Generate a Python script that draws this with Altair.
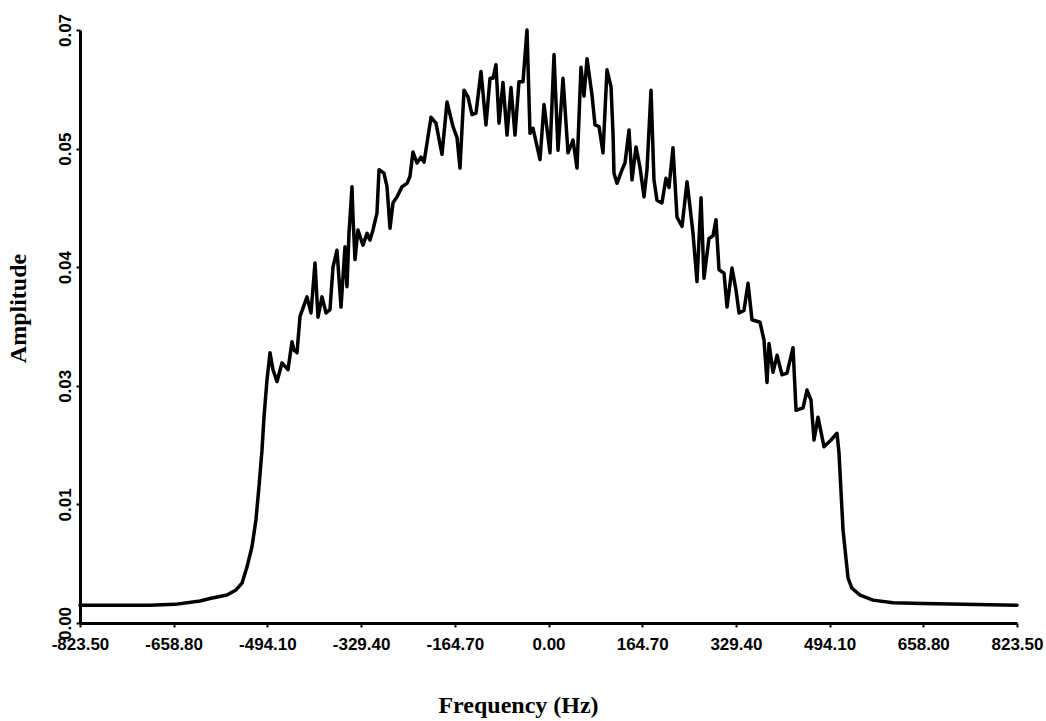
import altair as alt
import pandas as pd

# Spectrum trace: frequency (Hz) and amplitude
freq_hz = [
    -823.5, -700.5, -656.5, -612.6, -595.0, -565.1, -549.3, -538.8, -530.0, -521.2,
    -514.2, -508.9, -503.6, -500.1, -494.8, -489.5, -484.3, -477.2, -468.5, -457.9,
    -450.9, -447.4, -442.1, -436.8, -429.8, -424.5, -417.5, -410.4, -405.2, -398.1,
    -391.1, -384.1, -378.8, -371.8, -364.7, -357.7, -354.2, -350.7, -345.4, -343.6,
    -340.1, -334.9, -326.1, -319.0, -313.8, -308.5, -301.5, -297.9, -289.2, -283.9,
    -278.6, -273.3, -266.3, -257.5, -248.7, -243.5, -238.2, -231.1, -224.1, -218.8,
    -206.5, -197.8, -187.2, -178.4, -167.9, -160.8, -155.6, -148.5, -141.5, -134.5,
    -127.4, -118.7, -109.9, -102.8, -97.6, -92.3, -87.0, -80.0, -72.9, -65.9,
    -58.9, -51.9, -44.8, -37.8, -32.5, -27.2, -14.9, -7.9, 2.6, 9.7,
    16.7, 25.5, 34.3, 43.1, 50.1, 57.1, 62.4, 67.7, 76.5, 81.7,
    88.8, 95.8, 102.8, 109.9, 113.4, 115.1, 120.4, 129.2, 134.5, 141.5,
    146.8, 153.8, 160.8, 167.9, 173.1, 180.2, 185.4, 190.7, 199.5, 206.5,
    211.8, 218.8, 225.9, 234.7, 243.5, 248.7, 254.0, 261.0, 268.1, 273.3,
    282.1, 289.2, 294.4, 299.7, 308.5, 313.8, 322.6, 329.6, 334.9, 343.6,
    350.7, 357.7, 371.8, 378.8, 384.1, 387.6, 394.6, 401.7, 410.4, 419.2,
    429.8, 435.1, 447.4, 454.4, 461.4, 466.7, 473.7, 484.3, 496.6, 507.1,
    510.6, 517.7, 526.5, 533.5, 547.6, 570.4, 605.6, 658.3, 823.5,
]
amplitude = [
    0.0021, 0.0021, 0.0022, 0.0026, 0.0029, 0.0033, 0.0039, 0.0047, 0.0066, 0.0090,
    0.0122, 0.0161, 0.0204, 0.0243, 0.0287, 0.0319, 0.0299, 0.0285, 0.0307, 0.0299,
    0.0332, 0.0322, 0.0319, 0.0362, 0.0375, 0.0385, 0.0366, 0.0425, 0.0361, 0.0385,
    0.0366, 0.0370, 0.0420, 0.0440, 0.0373, 0.0444, 0.0397, 0.0460, 0.0515, 0.0479,
    0.0429, 0.0464, 0.0446, 0.0460, 0.0452, 0.0464, 0.0484, 0.0535, 0.0531, 0.0515,
    0.0466, 0.0496, 0.0503, 0.0515, 0.0519, 0.0527, 0.0556, 0.0543, 0.0550, 0.0544,
    0.0597, 0.0590, 0.0553, 0.0615, 0.0586, 0.0573, 0.0537, 0.0629, 0.0621, 0.0600,
    0.0602, 0.0651, 0.0588, 0.0643, 0.0643, 0.0659, 0.0590, 0.0638, 0.0576, 0.0632,
    0.0576, 0.0639, 0.0639, 0.0700, 0.0578, 0.0584, 0.0547, 0.0612, 0.0555, 0.0671,
    0.0558, 0.0643, 0.0555, 0.0570, 0.0537, 0.0656, 0.0622, 0.0666, 0.0623, 0.0588,
    0.0586, 0.0555, 0.0653, 0.0633, 0.0578, 0.0531, 0.0519, 0.0535, 0.0543, 0.0582,
    0.0523, 0.0562, 0.0538, 0.0503, 0.0535, 0.0629, 0.0523, 0.0499, 0.0496, 0.0525,
    0.0514, 0.0561, 0.0479, 0.0468, 0.0521, 0.0491, 0.0460, 0.0403, 0.0502, 0.0407,
    0.0454, 0.0457, 0.0476, 0.0417, 0.0413, 0.0373, 0.0419, 0.0393, 0.0366, 0.0369,
    0.0401, 0.0358, 0.0355, 0.0334, 0.0284, 0.0330, 0.0296, 0.0316, 0.0293, 0.0295,
    0.0325, 0.0251, 0.0254, 0.0275, 0.0263, 0.0216, 0.0243, 0.0208, 0.0216, 0.0224,
    0.0201, 0.0110, 0.0053, 0.0041, 0.0033, 0.0027, 0.0024, 0.0023, 0.0021,
]

x_ticks = [-823.5, -658.8, -494.1, -329.4, -164.7, 0.0, 164.7, 329.4, 494.1, 658.8, 823.5]
x_tick_labels = ["-823.50", "-658.80", "-494.10", "-329.40", "-164.70", "0.00",
                 "164.70", "329.40", "494.10", "658.80", "823.50"]
y_ticks = [0.0, 0.014, 0.028, 0.042, 0.056, 0.07]
y_tick_labels = ["0.00", "0.01", "0.03", "0.04", "0.05", "0.07"]

df = pd.DataFrame({"freq": freq_hz, "amp": amplitude})


def label_lookup(labels, start, step):
    arr = "[" + ",".join(f"'{s}'" for s in labels) + "]"
    return f"{arr}[round((datum.value - ({start})) / {step})]"


label_style = dict(
    labelFont="Liberation Sans",
    labelFontWeight="bold",
    labelFontSize=17,
    labelColor="black",
    labelFlush=False,
    labelOverlap=False,
    domainColor="black",
    domainWidth=3,
    tickColor="black",
    tickWidth=2,
    tickSize=4,
    grid=False,
    titleFont="Liberation Serif",
    titleFontWeight="bold",
    titleFontSize=24,
    titleColor="black",
    titleAlign="center",
    titleBaseline="alphabetic",
)

x_axis = alt.Axis(
    values=x_ticks,
    labelExpr=label_lookup(x_tick_labels, -823.5, 164.7),
    title="Frequency (Hz)",
    labelPadding=9,
    titleX=438,
    titleY=89,
    **label_style,
)

y_axis = alt.Axis(
    values=y_ticks,
    labelExpr=label_lookup(y_tick_labels, 0, 0.014),
    title="Amplitude",
    labelAngle=270,
    labelAlign="center",
    labelBaseline="bottom",
    labelPadding=2,
    titleAngle=270,
    titleX=-55,
    titleY=278,
    **label_style,
)

chart = (
    alt.Chart(df)
    .mark_line(color="black", strokeWidth=3.5, strokeJoin="round", strokeCap="round")
    .encode(
        x=alt.X("freq:Q", scale=alt.Scale(domain=[-823.5, 823.5], nice=False, zero=False), axis=x_axis),
        y=alt.Y("amp:Q", scale=alt.Scale(domain=[0, 0.07], nice=False), axis=y_axis),
    )
    .properties(
        width=937,
        height=593,
        autosize=alt.AutoSizeParams(type="none"),
        padding={"left": 80, "top": 30, "right": 29, "bottom": 98},
        background="white",
    )
    .configure_view(strokeWidth=0)
)

chart.save("out.html", embed_options={"renderer": "svg", "actions": False})
